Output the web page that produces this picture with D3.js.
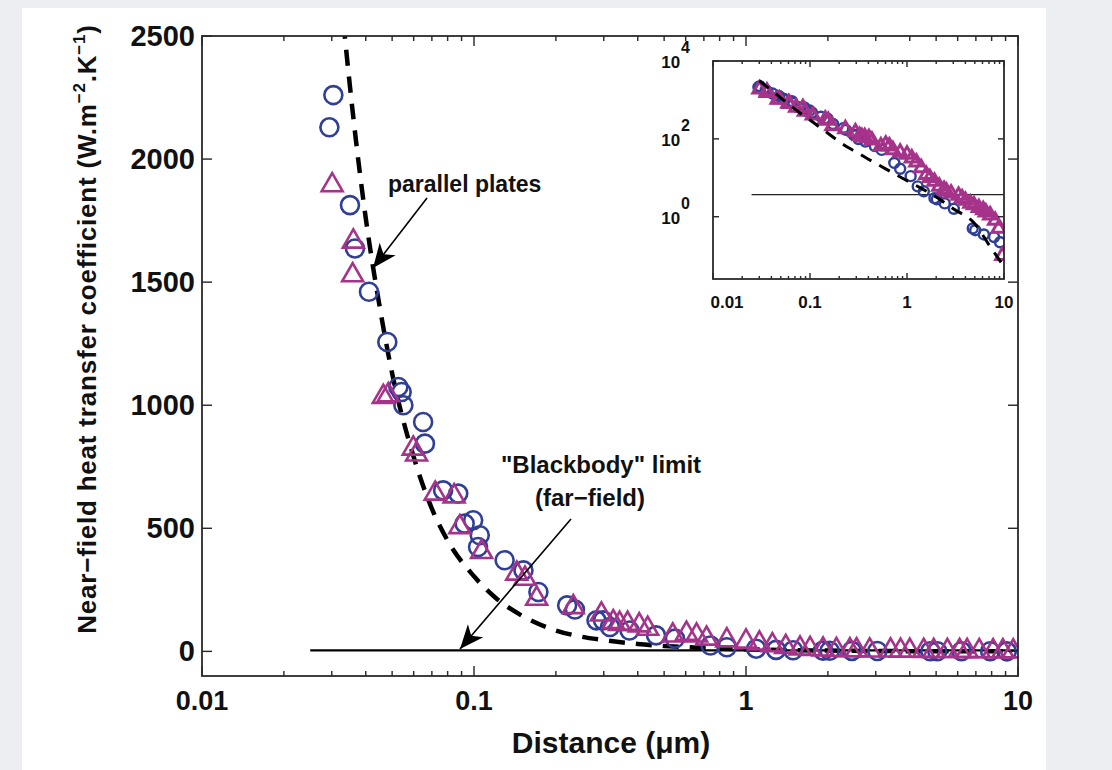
<!DOCTYPE html>
<html>
<head>
<meta charset="utf-8">
<script src="https://cdn.jsdelivr.net/npm/d3@7/dist/d3.min.js"></script>
<style>
  html, body { margin: 0; padding: 0; background: #eceef1; }
  svg { display: block; }
  text { font-family: "Liberation Sans", Arial, Helvetica, sans-serif; font-weight: bold; fill: #111; }
</style>
</head>
<body>
<svg id="chart" width="1112" height="770"></svg>
<script>
// Measured near-field heat transfer coefficient vs gap distance (µm), W.m-2.K-1
const circleDist = [0.0294, 0.0304, 0.035, 0.0365, 0.0411, 0.048, 0.0527, 0.0542, 0.055, 0.065, 0.066,
  0.077, 0.0875, 0.0924, 0.0993, 0.1035, 0.105, 0.1296, 0.152, 0.1725, 0.22, 0.235, 0.282, 0.298, 0.316,
  0.373, 0.467, 0.548, 0.74, 0.85, 1.09, 1.29, 1.49, 1.92, 2.03, 2.45, 3.04, 4.76, 5.05, 6.2, 7.9, 9.1];
const circleValue = [2129, 2260, 1813, 1637, 1461, 1257, 1074, 1054, 1000, 932, 844,
  654, 641, 519, 533, 424, 472, 370, 329, 241, 187, 170, 126, 126, 99,
  85, 65, 52, 24, 17, 11, 6, 4.5, 3, 2.8, 2.2, 1.6, 0.5, 0.45, 0.35, 0.3, 0.22];

const triangleDist = [0.0301, 0.0358, 0.036, 0.0464, 0.0484, 0.0598, 0.0615, 0.072, 0.0845, 0.0887,
  0.1067, 0.1436, 0.154, 0.17, 0.2316, 0.294, 0.325, 0.343, 0.367, 0.405, 0.435, 0.538, 0.604, 0.658,
  0.716, 0.85, 1.0, 1.12, 1.25, 1.4, 1.58, 1.72, 1.92, 2.15, 2.41, 2.55, 2.85, 3.4, 3.7, 4.0, 4.5, 4.9,
  5.5, 6.1, 6.5, 7.2, 8.1, 8.8, 9.6];
const triangleValue = [1894, 1528, 1665, 1034, 1041, 824, 800, 641, 630, 505,
  404, 316, 295, 214, 180, 150, 119, 112, 112, 106, 92, 65, 72, 65,
  52, 45, 40, 32, 25, 18, 12, 10, 8, 6, 5, 4.5, 4, 3.5, 3, 2.6, 2.2, 2,
  1.7, 1.5, 1.3, 1.1, 0.8, 0.5, 0.1];

// Parallel-plate theory (dashed curve)
const theoryDist = [0.03, 0.0335, 0.036, 0.04, 0.045, 0.05, 0.06, 0.07, 0.08, 0.1, 0.12, 0.15, 0.2,
  0.25, 0.3, 0.4, 0.5, 0.7, 1, 1.5, 2, 3, 5, 7, 9.5];
const theoryValue = [3100, 2500, 2170, 1760, 1400, 1130, 790, 580, 450, 305, 218, 145, 85,
  59, 46, 30, 22, 13.8, 8.4, 4.9, 3.2, 1.6, 0.66, 0.19, 0.063];

// Far-field blackbody limit
const blackbodyDist = [0.025, 10];
const blackbodyValue = [3.7, 3.7];

const xTickValues = [0.01, 0.1, 1, 10];
const yTickValues = [0, 500, 1000, 1500, 2000, 2500];
const insetYTickExp = [4, 2, 0];

const circleColor = "#2f3f96";
const triangleColor = "#a6338a";

const svg = d3.select("#chart");

// white figure panel
svg.append("rect").attr("x", 22).attr("y", 8).attr("width", 1024).attr("height", 762).attr("fill", "#fff");

const plot = { left: 202, right: 1018, top: 36, bottom: 676 };
const x = d3.scaleLog().domain([0.01, 10]).range([plot.left, plot.right]);
const y = d3.scaleLinear().domain([-100, 2500]).range([plot.bottom, plot.top]);

const circles = circleDist.map((d, i) => ({ d, v: circleValue[i] }));
const triangles = triangleDist.map((d, i) => ({ d, v: triangleValue[i] }));
const theory = theoryDist.map((d, i) => ({ d, v: theoryValue[i] }));
const blackbody = blackbodyDist.map((d, i) => ({ d, v: blackbodyValue[i] }));

const defs = svg.append("defs");
defs.append("clipPath").attr("id", "mainClip").append("rect")
  .attr("x", plot.left).attr("y", plot.top)
  .attr("width", plot.right - plot.left).attr("height", plot.bottom - plot.top);

// minor log ticks
function logTicks(lo, hi) {
  const out = [];
  for (let e = Math.round(Math.log10(lo)); e < Math.round(Math.log10(hi)); e++) {
    for (let k = 2; k <= 9; k++) out.push(k * Math.pow(10, e));
  }
  return out;
}

function drawFrame(g, sx, sy, box, majorX, yTicks, majorLen, minorLen, sw) {
  g.append("rect").attr("x", box.left).attr("y", box.top)
    .attr("width", box.right - box.left).attr("height", box.bottom - box.top)
    .attr("fill", "none").attr("stroke", "#2a2a2a").attr("stroke-width", sw);
  const t = g.append("g").attr("stroke", "#2a2a2a").attr("stroke-width", sw * 0.8);
  majorX.forEach(v => {
    t.append("line").attr("x1", sx(v)).attr("x2", sx(v)).attr("y1", box.bottom).attr("y2", box.bottom - majorLen);
    t.append("line").attr("x1", sx(v)).attr("x2", sx(v)).attr("y1", box.top).attr("y2", box.top + majorLen);
  });
  logTicks(sx.domain()[0], sx.domain()[1]).forEach(v => {
    t.append("line").attr("x1", sx(v)).attr("x2", sx(v)).attr("y1", box.bottom).attr("y2", box.bottom - minorLen);
    t.append("line").attr("x1", sx(v)).attr("x2", sx(v)).attr("y1", box.top).attr("y2", box.top + minorLen);
  });
  yTicks.forEach(v => {
    t.append("line").attr("x1", box.left).attr("x2", box.left + majorLen).attr("y1", sy(v)).attr("y2", sy(v));
    t.append("line").attr("x1", box.right).attr("x2", box.right - majorLen).attr("y1", sy(v)).attr("y2", sy(v));
  });
}

// ---------- main panel ----------
const main = svg.append("g");
const data = main.append("g").attr("clip-path", "url(#mainClip)");

data.append("path").datum(blackbody)
  .attr("d", d3.line().x(p => x(p.d)).y(p => y(p.v)))
  .attr("fill", "none").attr("stroke", "#000").attr("stroke-width", 2.2);

data.append("path").datum(theory)
  .attr("d", d3.line().x(p => x(p.d)).y(p => y(p.v)).curve(d3.curveMonotoneX))
  .attr("fill", "none").attr("stroke", "#000").attr("stroke-width", 4.5)
  .attr("stroke-dasharray", "16 11");

const triSym = d3.symbol().type(d3.symbolTriangle).size(190);
data.selectAll(".c").data(circles).enter().append("circle")
  .attr("cx", p => x(p.d)).attr("cy", p => y(p.v)).attr("r", 9)
  .attr("fill", "none").attr("stroke", circleColor).attr("stroke-width", 2.6);
data.selectAll(".t").data(triangles).enter().append("path")
  .attr("d", triSym).attr("transform", p => `translate(${x(p.d)},${y(p.v)})`)
  .attr("fill", "none").attr("stroke", triangleColor).attr("stroke-width", 2.6);

drawFrame(main, x, y, plot, xTickValues, yTickValues, 10, 5, 1.8);

// tick labels
main.selectAll(".xl").data(xTickValues).enter().append("text")
  .attr("x", v => x(v)).attr("y", 710).attr("text-anchor", "middle")
  .attr("font-size", 27).text(v => String(v));
main.selectAll(".yl").data(yTickValues).enter().append("text")
  .attr("x", 195).attr("y", v => y(v) + 10).attr("text-anchor", "end")
  .attr("font-size", 29).text(v => String(v));

// axis titles
main.append("text").attr("x", 611).attr("y", 753).attr("text-anchor", "middle")
  .attr("font-size", 30).text("Distance (\u03bcm)");

const yl = main.append("text").attr("transform", "translate(96,329) rotate(-90)")
  .attr("text-anchor", "middle").attr("font-size", 26).attr("letter-spacing", 0.8);
yl.append("tspan").text("Near\u2212field heat transfer  coefficient (W.m");
yl.append("tspan").attr("font-size", 17).attr("dy", -11).text("\u22122");
yl.append("tspan").attr("dy", 11).text(".K");
yl.append("tspan").attr("font-size", 17).attr("dy", -11).text("\u22121");
yl.append("tspan").attr("dy", 11).text(")");

// annotations
function arrow(g, x1, y1, x2, y2, head) {
  g.append("line").attr("x1", x1).attr("y1", y1).attr("x2", x2).attr("y2", y2)
    .attr("stroke", "#000").attr("stroke-width", 1.6);
  const ang = Math.atan2(y2 - y1, x2 - x1) * 180 / Math.PI;
  g.append("path").attr("d", `M0,0 L${-head},${-head * 0.42} L${-head * 0.72},0 L${-head},${head * 0.42} Z`)
    .attr("transform", `translate(${x2},${y2}) rotate(${ang})`).attr("fill", "#000");
}
main.append("text").attr("x", 388).attr("y", 192).attr("font-size", 23).text("parallel plates");
arrow(main, 427, 198, 373, 268, 24);

main.append("text").attr("x", 601).attr("y", 473).attr("text-anchor", "middle").attr("font-size", 24)
  .text("\"Blackbody\" limit");
main.append("text").attr("x", 590).attr("y", 506).attr("text-anchor", "middle").attr("font-size", 24)
  .text("(far\u2212field)");
arrow(main, 571, 519, 460, 649, 24);

// ---------- inset (log-log) ----------
const ibox = { left: 713, right: 1004, top: 61, bottom: 279 };
const xi = d3.scaleLog().domain([0.01, 10]).range([ibox.left, ibox.right]);
const yi = d3.scaleLog().domain([Math.pow(10, -1.6), 1e4]).range([ibox.bottom, ibox.top]);

defs.append("clipPath").attr("id", "insetClip").append("rect")
  .attr("x", ibox.left).attr("y", ibox.top)
  .attr("width", ibox.right - ibox.left).attr("height", ibox.bottom - ibox.top);

const inset = svg.append("g");
inset.append("rect").attr("x", ibox.left).attr("y", ibox.top)
  .attr("width", ibox.right - ibox.left).attr("height", ibox.bottom - ibox.top).attr("fill", "#fff");
const idata = inset.append("g").attr("clip-path", "url(#insetClip)");

idata.append("path").datum(blackbody)
  .attr("d", d3.line().x(p => xi(p.d)).y(p => yi(p.v)))
  .attr("fill", "none").attr("stroke", "#222").attr("stroke-width", 1.2);

const triSmall = d3.symbol().type(d3.symbolTriangle).size(75);
idata.selectAll(".ic").data(circles).enter().append("circle")
  .attr("cx", p => xi(p.d)).attr("cy", p => yi(p.v)).attr("r", 5)
  .attr("fill", "none").attr("stroke", circleColor).attr("stroke-width", 2.4);
idata.selectAll(".it").data(triangles).enter().append("path")
  .attr("d", triSmall).attr("transform", p => `translate(${xi(p.d)},${yi(p.v)})`)
  .attr("fill", "none").attr("stroke", triangleColor).attr("stroke-width", 3);

idata.append("path").datum(theory)
  .attr("d", d3.line().x(p => xi(p.d)).y(p => yi(p.v)).curve(d3.curveMonotoneX))
  .attr("fill", "none").attr("stroke", "#000").attr("stroke-width", 3)
  .attr("stroke-dasharray", "12 9");

drawFrame(inset, xi, yi, ibox, xTickValues, insetYTickExp.map(e => Math.pow(10, e)), 6, 3, 1.8);

inset.selectAll(".ixl").data(xTickValues).enter().append("text")
  .attr("x", v => xi(v) + (v === 0.01 ? 14 : 0)).attr("y", 308).attr("text-anchor", "middle")
  .attr("font-size", 17).text(v => String(v));
insetYTickExp.forEach(e => {
  const t = inset.append("text").attr("x", 690).attr("y", yi(Math.pow(10, e)) + 7)
    .attr("text-anchor", "end").attr("font-size", 17);
  t.append("tspan").text("10");
  t.append("tspan").attr("dx", 1).attr("dy", -15).attr("font-size", 16).text(String(e));
});
</script>
</body>
</html>
